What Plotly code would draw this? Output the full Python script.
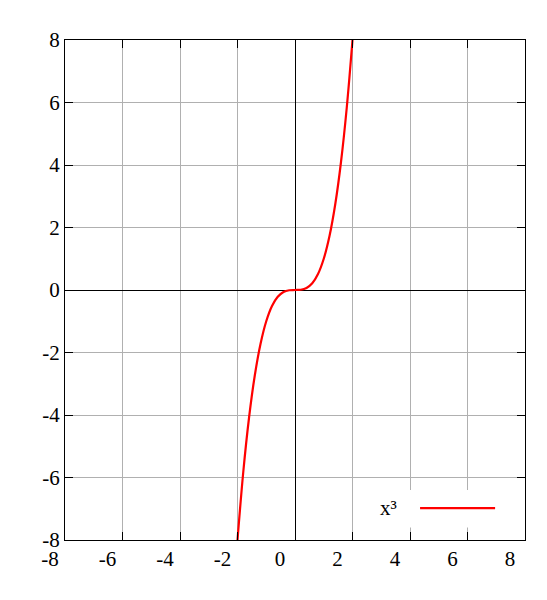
import plotly.graph_objects as go

# values
xs = [-2.0, -1.8, -1.6, -1.4, -1.2, -1.0, -0.8, -0.6, -0.4, -0.2, 0.0,
      0.2, 0.4, 0.6, 0.8, 1.0, 1.2, 1.4, 1.6, 1.8, 2.0]
ys = [-8.0, -5.832, -4.096, -2.744, -1.728, -1.0, -0.512, -0.216, -0.064, -0.008, 0.0,
      0.008, 0.064, 0.216, 0.512, 1.0, 1.728, 2.744, 4.096, 5.832, 8.0]
ticks = [-8, -6, -4, -2, 0, 2, 4, 6, 8]
tick_labels = ["-8", "-6", "-4", "-2", "0", "2", "4", "6", "8"]
legend_label = "x³"

font = dict(family="Liberation Serif, Times New Roman, serif", size=21, color="black")

fig = go.Figure()
fig.add_trace(go.Scatter(x=xs, y=ys, mode="lines", line=dict(color="red", width=2.2, shape="spline"),
                         showlegend=False))

axis = dict(range=[-8, 8], tickvals=ticks, ticktext=tick_labels, ticks="inside", ticklen=8,
            tickcolor="black", mirror="allticks", showline=True, linecolor="black", linewidth=1,
            showgrid=True, gridcolor="#b0b0b0", gridwidth=0.5, automargin=False,
            zeroline=True, zerolinecolor="black", zerolinewidth=1, tickfont=font)

fig.update_layout(
    width=547, height=600, margin=dict(l=57, r=30, t=32, b=68, autoexpand=False),
    plot_bgcolor="white", paper_bgcolor="white",
    xaxis=dict(axis, ticklabelshift=-15),
    yaxis=axis,
)

# legend box drawn like gnuplot: label then line sample
fig.add_shape(type="rect", x0=2.5, x1=7.4, y0=-7.6, y1=-6.4, fillcolor="white",
              line=dict(width=0), layer="above")
fig.add_shape(type="line", x0=4.35, x1=6.96, y0=-6.98, y1=-6.98,
              line=dict(color="red", width=2.2), layer="above")
fig.add_annotation(x=3.6, y=-6.98, text=legend_label, showarrow=False, font=font, xanchor="right")

fig.write_html("out.html")
